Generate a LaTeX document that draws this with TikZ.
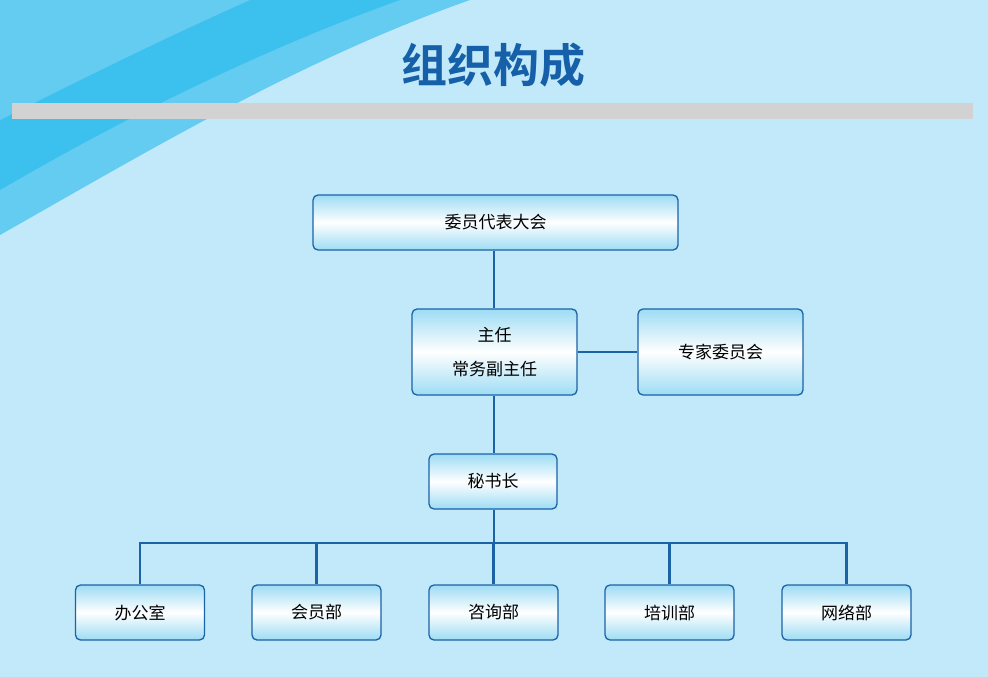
\documentclass[tikz,border=0pt]{standalone}
\usepackage{fontspec}
\newfontfamily\cjk{Noto Sans CJK SC}
\newfontfamily\cjkb{Noto Sans CJK SC Bold}
\definecolor{bg}{HTML}{C2E9F9}
\definecolor{swoosh}{HTML}{3CC0EE}
\definecolor{edge}{HTML}{1B62A6}
\definecolor{boxb}{HTML}{9DDCF4}
\definecolor{title}{HTML}{1560A8}
\begin{document}
\begin{tikzpicture}[x=1pt,y=-1pt,
  box/.style={draw=edge,line width=1.3pt,rounded corners=5pt,
    top color=boxb,bottom color=boxb,middle color=white,shading angle=0,
    font=\cjk\fontsize{17}{34}\selectfont,align=center,inner sep=0pt},
  wire/.style={draw=edge,line width=2.4pt}]
\useasboundingbox (0,0) rectangle (988,677);
\fill[bg] (0,0) rectangle (988,677);
\fill[swoosh!70!bg] (0,0) -- (470,0) .. controls (300,60) and (150,150) .. (0,235) -- cycle;
\fill[swoosh] (0,0) -- (400,0) .. controls (260,50) and (120,120) .. (0,190) -- cycle;
\fill[swoosh!50!bg,opacity=0.6] (0,0) -- (250,0) .. controls (160,40) and (80,80) .. (0,120) -- cycle;
\fill[gray!35] (12,103) rectangle (973,119);
\node[text=title,font=\cjkb\fontsize{46}{50}\selectfont] (t) at (493,65) {组织构成};
\node[box,minimum width=365pt,minimum height=55pt] (a) at (495.5,222.5) {委员代表大会};
\node[box,minimum width=165pt,minimum height=86pt] (b) at (494.5,352) {主任\\常务副主任};
\node[box,minimum width=165pt,minimum height=86pt] (c) at (720.5,352) {专家委员会};
\node[box,minimum width=128pt,minimum height=55pt] (d) at (493,481.5) {秘书长};
\foreach \n/\x/\t in {e1/140/办公室,e2/316.5/会员部,e3/493.5/咨询部,e4/669.5/培训部,e5/846.5/网络部}
  \node[box,minimum width=129pt,minimum height=55pt] (\n) at (\x,612.5) {\t};
\coordinate (bus) at (494,543);
\draw[wire] (a.south -| bus) -- (b.north -| bus);
\draw[wire] (b.east) -- (c.west);
\draw[wire] (b.south -| bus) -- (d.north -| bus);
\draw[wire] (d.south -| bus) -- (bus);
\draw[wire] (e1.north) |- (bus) -| (e5.north);
\foreach \n in {e2,e3,e4} \draw[wire] (\n.north) -- (\n.north |- bus);
\end{tikzpicture}
\end{document}
